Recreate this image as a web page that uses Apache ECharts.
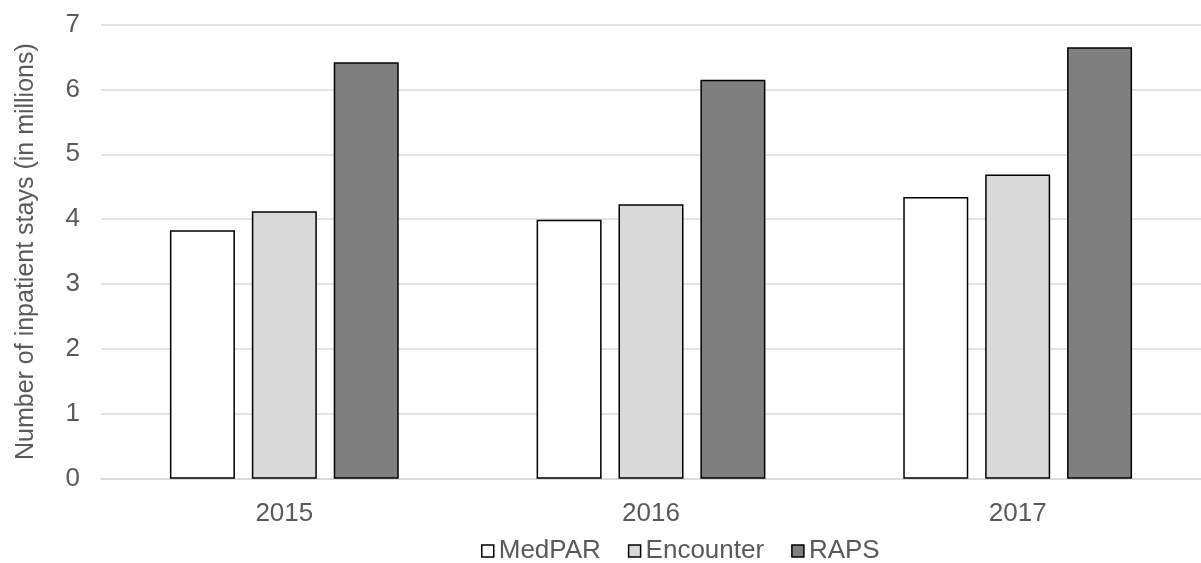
<!DOCTYPE html>
<html>
<head>
<meta charset="utf-8">
<script src="https://cdn.jsdelivr.net/npm/echarts@6/dist/echarts.min.js"></script>
<style>
html,body{margin:0;padding:0;background:#fff;}
#chart{width:1201px;height:563px;}
</style>
</head>
<body>
<div id="chart"></div>
<script>
const categories = ['2015', '2016', '2017'];
const medpar = [3.83, 3.99, 4.34];
const encounter = [4.12, 4.23, 4.69];
const raps = [6.42, 6.15, 6.65];
const yTicks = [0, 1, 2, 3, 4, 5, 6, 7];

const chart = echarts.init(document.getElementById('chart'));
const font = 'Liberation Sans, Arial, sans-serif';
const txt = '#595959';
function barSeries(name, data, color) {
  return {
    name: name, type: 'bar', data: data,
    barWidth: 65, barGap: '26%',
    itemStyle: { color: color, borderColor: '#000', borderWidth: 1.5 }
  };
}
chart.setOption({
  animation: false,
  grid: { left: 101, top: 24.5, width: 1110, height: 454.2, containLabel: false },
  xAxis: {
    type: 'category', data: categories,
    axisLine: { lineStyle: { color: '#d9d9d9', width: 1.5 } },
    axisTick: { show: false },
    axisLabel: { color: txt, fontSize: 26, fontFamily: font, margin: 22 }
  },
  yAxis: {
    type: 'value', min: yTicks[0], max: yTicks[yTicks.length - 1], interval: 1,
    name: 'Number of inpatient stays (in millions)',
    nameLocation: 'middle', nameGap: 62,
    nameTextStyle: { color: txt, fontSize: 25, fontFamily: font },
    axisLine: { show: false }, axisTick: { show: false },
    axisLabel: { color: txt, fontSize: 26, fontFamily: font, margin: 21 },
    splitLine: { lineStyle: { color: '#d9d9d9', width: 1.5 } }
  },
  legend: {
    left: 476, top: 533,
    icon: 'rect', itemWidth: 12, itemHeight: 12, itemGap: 27,
    textStyle: { color: txt, fontSize: 26, fontFamily: font },
    itemStyle: { borderColor: '#000', borderWidth: 1.5 }
  },
  series: [
    barSeries('MedPAR', medpar, '#ffffff'),
    barSeries('Encounter', encounter, '#d9d9d9'),
    barSeries('RAPS', raps, '#7f7f7f')
  ]
});
</script>
</body>
</html>
